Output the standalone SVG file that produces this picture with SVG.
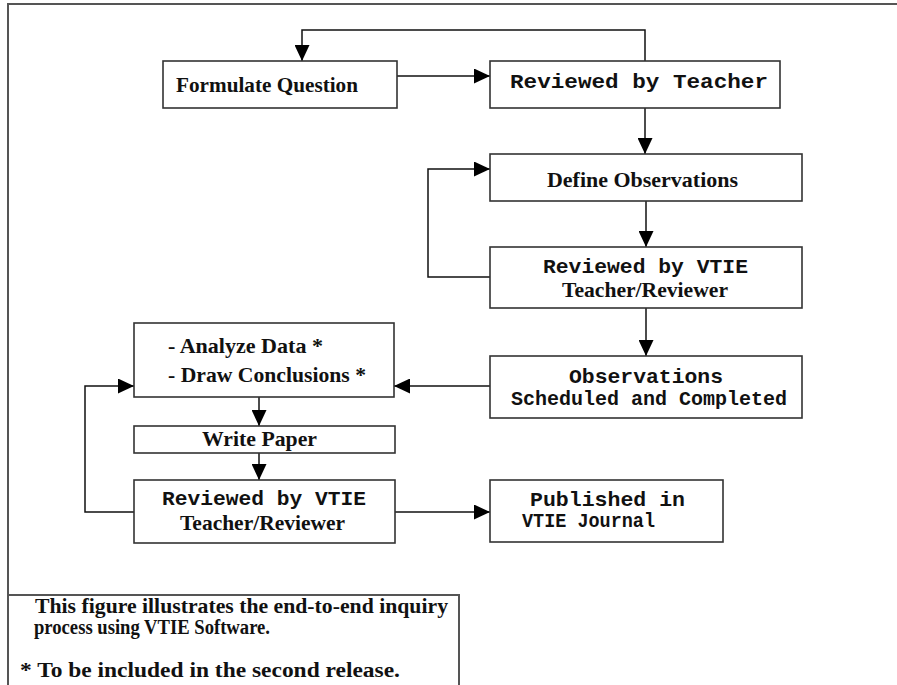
<svg xmlns="http://www.w3.org/2000/svg" width="897" height="685" viewBox="0 0 897 685">
<style>
.box{fill:#fff;stroke:#333;stroke-width:1.6}
.frame{fill:none;stroke:#555;stroke-width:2}
.ln{fill:none;stroke:#111;stroke-width:1.5}
.serif{font-family:"Liberation Serif","Times New Roman",serif;font-weight:bold;font-size:21px;fill:#111}
.lg{font-family:"Liberation Serif","Times New Roman",serif;font-weight:bold;font-size:20px;fill:#111}
.mono{font-family:"Liberation Mono","Courier New",monospace;font-weight:bold;font-size:21px;fill:#111}
</style>
<defs>
<marker id="ah" markerUnits="userSpaceOnUse" markerWidth="16" markerHeight="15" refX="16" refY="7.5" orient="auto">
<path d="M0,0 L16,7.5 L0,15 z" fill="#000"/>
</marker>
</defs>
<rect width="897" height="685" fill="#fff"/>
<path class="frame" d="M8,685 V4 H897"/>

<g id="connectors">
<path class="ln" d="M397,76 H490" marker-end="url(#ah)"/>
<path class="ln" d="M645,61 V30 H302 V61" marker-end="url(#ah)"/>
<path class="ln" d="M645,108 V154" marker-end="url(#ah)"/>
<path class="ln" d="M646,201 V247" marker-end="url(#ah)"/>
<path class="ln" d="M490,277 H428 V169 H490" marker-end="url(#ah)"/>
<path class="ln" d="M646,308 V356" marker-end="url(#ah)"/>
<path class="ln" d="M490,386 H394" marker-end="url(#ah)"/>
<path class="ln" d="M259,397 V426" marker-end="url(#ah)"/>
<path class="ln" d="M259,453 V480" marker-end="url(#ah)"/>
<path class="ln" d="M134,512 H85 V386 H134" marker-end="url(#ah)"/>
<path class="ln" d="M395,512 H490" marker-end="url(#ah)"/>
</g>

<g id="formulate">
<rect class="box" x="163" y="61" width="234" height="47"/>
<text class="serif" x="176" y="92" textLength="182" lengthAdjust="spacingAndGlyphs">Formulate Question</text>
</g>
<g id="reviewed-teacher">
<rect class="box" x="490" y="61" width="290" height="47"/>
<text class="mono" x="510" y="88" textLength="258" lengthAdjust="spacingAndGlyphs">Reviewed by Teacher</text>
</g>
<g id="define">
<rect class="box" x="490" y="154" width="312" height="47"/>
<text class="serif" x="547" y="187" textLength="191" lengthAdjust="spacingAndGlyphs">Define Observations</text>
</g>
<g id="reviewed-vtie-1">
<rect class="box" x="490" y="247" width="312" height="61"/>
<text class="mono" x="543" y="273" textLength="205" lengthAdjust="spacingAndGlyphs">Reviewed by VTIE</text>
<text class="serif" x="562" y="297" textLength="166" lengthAdjust="spacingAndGlyphs">Teacher/Reviewer</text>
</g>
<g id="observations">
<rect class="box" x="490" y="356" width="312" height="62"/>
<text class="mono" x="569" y="383" textLength="154" lengthAdjust="spacingAndGlyphs">Observations</text>
<text class="mono" x="511" y="405" textLength="276" lengthAdjust="spacingAndGlyphs">Scheduled and Completed</text>
</g>
<g id="analyze">
<rect class="box" x="134" y="323" width="260" height="74"/>
<text class="serif" x="168" y="353" textLength="155" lengthAdjust="spacingAndGlyphs">- Analyze Data *</text>
<text class="serif" x="168" y="382" textLength="198" lengthAdjust="spacingAndGlyphs">- Draw Conclusions *</text>
</g>
<g id="write-paper">
<rect class="box" x="134" y="426" width="261" height="27"/>
<text class="serif" x="202" y="446" textLength="115" lengthAdjust="spacingAndGlyphs">Write Paper</text>
</g>
<g id="reviewed-vtie-2">
<rect class="box" x="134" y="480" width="261" height="63"/>
<text class="mono" x="162" y="505" textLength="204" lengthAdjust="spacingAndGlyphs">Reviewed by VTIE</text>
<text class="serif" x="180" y="530" textLength="165" lengthAdjust="spacingAndGlyphs">Teacher/Reviewer</text>
</g>
<g id="published">
<rect class="box" x="490" y="480" width="233" height="62"/>
<text class="mono" x="530" y="506" textLength="155" lengthAdjust="spacingAndGlyphs">Published in</text>
<text class="mono" x="522" y="527" textLength="133" lengthAdjust="spacingAndGlyphs">VTIE Journal</text>
</g>
<g id="legend">
<path class="frame" d="M8,595 H459 V685"/>
<text class="lg" x="35" y="613" textLength="413" lengthAdjust="spacingAndGlyphs">This figure illustrates the end-to-end inquiry</text>
<text class="lg" x="34" y="634" textLength="236" lengthAdjust="spacingAndGlyphs">process using VTIE Software.</text>
<text class="lg" x="20" y="677" textLength="380" lengthAdjust="spacingAndGlyphs">* To be included in the second release.</text>
</g>
</svg>
